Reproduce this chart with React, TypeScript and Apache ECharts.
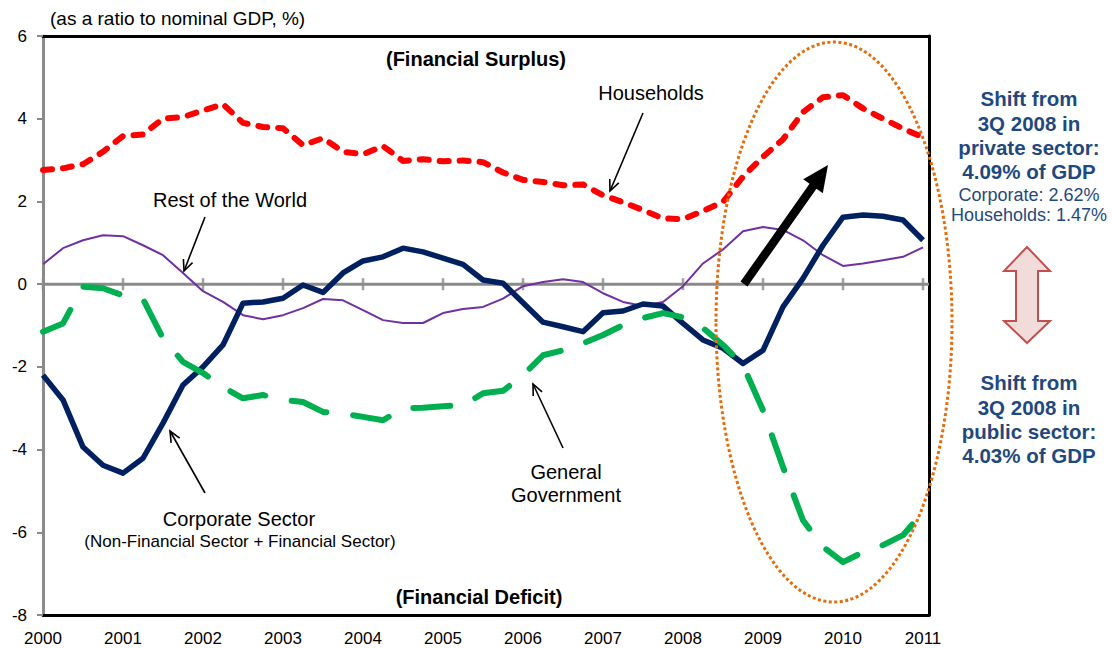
import React, { useEffect, useRef } from "react";
import * as echarts from "echarts";

// Quarterly observations, 2000 Q1 .. 2011 Q1
const quarterIndex = Array.from({ length: 45 }, (_, i) => i);
const quarterX = quarterIndex.map((i) => 2000 + i / 4);
const yearTicks = [2000, 2001, 2002, 2003, 2004, 2005, 2006, 2007, 2008, 2009, 2010, 2011];

const households = [
  2.76, 2.8, 2.9, 3.2, 3.58, 3.62, 4.0, 4.04, 4.2, 4.35,
  3.9, 3.8, 3.77, 3.36, 3.53, 3.2, 3.14, 3.34, 2.98, 3.02,
  2.97, 2.99, 2.95, 2.7, 2.52, 2.47, 2.39, 2.41, 2.15, 1.98,
  1.79, 1.59, 1.57, 1.77, 1.99, 2.6, 3.08, 3.5, 4.16, 4.52,
  4.57, 4.25, 4.0, 3.76, 3.55,
];
const restOfWorld = [
  0.48, 0.87, 1.06, 1.18, 1.16, 0.94, 0.7, 0.27, -0.17, -0.43,
  -0.75, -0.85, -0.75, -0.58, -0.36, -0.39, -0.63, -0.87, -0.94, -0.94,
  -0.7, -0.6, -0.55, -0.35, -0.05, 0.05, 0.12, 0.05, -0.22, -0.43,
  -0.53, -0.43, -0.05, 0.5, 0.84, 1.28, 1.38, 1.31, 1.06, 0.7,
  0.44, 0.5, 0.58, 0.66, 0.89,
];
const corporate = [
  -2.2, -2.8, -3.94, -4.38, -4.57, -4.21, -3.36, -2.44, -2.0, -1.47,
  -0.46, -0.43, -0.34, -0.02, -0.2, 0.27, 0.56, 0.66, 0.87, 0.78,
  0.63, 0.48, 0.1, 0.02, -0.45, -0.92, -1.03, -1.15, -0.69, -0.65,
  -0.48, -0.53, -0.95, -1.35, -1.55, -1.92, -1.6, -0.55, 0.14, 0.94,
  1.62, 1.67, 1.64, 1.55, 1.06,
];
const government = [
  -1.15, -0.95, -0.06, -0.1, -0.27, -0.36, -1.31, -1.88, -2.15, -2.49,
  -2.76, -2.68, -2.8, -2.85, -3.09, -3.13, -3.21, -3.29, -3.0, -2.99,
  -2.95, -2.93, -2.64, -2.58, -2.2, -1.72, -1.6, -1.43, -1.23, -0.99,
  -0.82, -0.7, -0.8, -1.06, -1.47, -1.96, -3.05, -4.42, -5.71, -6.35,
  -6.72, -6.48, -6.31, -6.07, -5.51,
];

const FONT = "'Liberation Sans', Arial, sans-serif";
const NAVY_TEXT = "#1F497D";

const pair = (vals: number[]) => vals.map((v, i) => [quarterX[i], v]);

function openArrow(x1: number, y1: number, x2: number, y2: number) {
  const a = Math.atan2(y2 - y1, x2 - x1);
  const len = 12;
  const ang = 0.42;
  const p1 = [x2 - len * Math.cos(a - ang), y2 - len * Math.sin(a - ang)];
  const p2 = [x2 - len * Math.cos(a + ang), y2 - len * Math.sin(a + ang)];
  return [
    { type: "line", shape: { x1, y1, x2, y2 }, style: { stroke: "#000", lineWidth: 1.6 }, z: 50 },
    { type: "polyline", shape: { points: [p1, [x2, y2], p2] }, style: { stroke: "#000", lineWidth: 1.6, fill: null }, z: 50 },
  ];
}

function blockArrow(x1: number, y1: number, x2: number, y2: number) {
  const sw = 8.5, hw = 24, hl = 26;
  const dx = x2 - x1, dy = y2 - y1, L = Math.hypot(dx, dy);
  const ux = dx / L, uy = dy / L, nx = -uy, ny = ux;
  const bx = x2 - ux * hl, by = y2 - uy * hl;
  return {
    type: "polygon",
    z: 50,
    shape: {
      points: [
        [x1 + (nx * sw) / 2, y1 + (ny * sw) / 2],
        [bx + (nx * sw) / 2, by + (ny * sw) / 2],
        [bx + (nx * hw) / 2, by + (ny * hw) / 2],
        [x2, y2],
        [bx - (nx * hw) / 2, by - (ny * hw) / 2],
        [bx - (nx * sw) / 2, by - (ny * sw) / 2],
        [x1 - (nx * sw) / 2, y1 - (ny * sw) / 2],
      ],
    },
    style: { fill: "#000" },
  };
}

function txt(text: string, x: number, y: number, size: number, opts: any = {}) {
  return {
    type: "text",
    x,
    y,
    z: 60,
    style: {
      text,
      fill: opts.color || "#000",
      fontSize: size,
      fontFamily: FONT,
      fontWeight: opts.bold ? "bold" : "normal",
      align: opts.align || "center",
      verticalAlign: "middle",
    },
  };
}

export default function App() {
  const ref = useRef<HTMLDivElement>(null);
  useEffect(() => {
    document.body.style.margin = "0";
    const chart = echarts.init(ref.current!, null, { renderer: "svg" });
    const xMax = 2011.075;

    const graphics: any[] = [
      txt("(as a ratio to nominal GDP, %)", 50, 18, 19, { align: "left" }),
      txt("(Financial Surplus)", 476, 59, 20, { bold: true }),
      txt("(Financial Deficit)", 479, 597, 20, { bold: true }),
      txt("Households", 651, 93, 20),
      txt("Rest of the World", 230, 200, 20),
      txt("Corporate Sector", 239, 519, 20),
      txt("(Non-Financial Sector + Financial Sector)", 240, 541, 17),
      txt("General", 566, 472, 20),
      txt("Government", 566, 495, 20),
      ...openArrow(643, 113, 610, 191),
      ...openArrow(205, 217, 184, 271),
      ...openArrow(205, 493, 170, 431),
      ...openArrow(563, 448, 533, 384),
      blockArrow(744, 284, 828, 165),
      {
        type: "ellipse",
        z: 55,
        shape: { cx: 834, cy: 322, rx: 118, ry: 280 },
        style: { fill: null, stroke: "#E46C0A", lineWidth: 3, lineDash: [3, 2.5] },
      },
      txt("Shift from", 1029, 98, 20.5, { bold: true, color: NAVY_TEXT }),
      txt("3Q 2008 in", 1029, 123, 20.5, { bold: true, color: NAVY_TEXT }),
      txt("private sector:", 1029, 147, 20.5, { bold: true, color: NAVY_TEXT }),
      txt("4.09% of GDP", 1029, 171, 20.5, { bold: true, color: NAVY_TEXT }),
      txt("Corporate: 2.62%", 1029, 195, 18, { color: NAVY_TEXT }),
      txt("Households: 1.47%", 1029, 215, 18, { color: NAVY_TEXT }),
      {
        type: "polygon",
        z: 50,
        shape: {
          points: [
            [1027, 247], [1050, 271], [1038, 271], [1038, 321], [1050, 321],
            [1027, 343], [1004, 321], [1016, 321], [1016, 271], [1004, 271],
          ],
        },
        style: { fill: "#F2DCDB", stroke: "#C0504D", lineWidth: 2 },
      },
      txt("Shift from", 1029, 382, 20.5, { bold: true, color: NAVY_TEXT }),
      txt("3Q 2008 in", 1029, 407, 20.5, { bold: true, color: NAVY_TEXT }),
      txt("public sector:", 1029, 431, 20.5, { bold: true, color: NAVY_TEXT }),
      txt("4.03% of GDP", 1029, 455, 20.5, { bold: true, color: NAVY_TEXT }),
    ];

    const option: any = {
      animation: false,
      backgroundColor: "#fff",
      textStyle: { fontFamily: FONT },
      grid: { left: 43, top: 36, width: 886, height: 579, containLabel: false },
      xAxis: [
        {
          type: "value",
          position: "bottom",
          min: 2000,
          max: xMax,
          interval: 1,
          axisLine: { show: true, onZero: false, lineStyle: { color: "#000", width: 3 } },
          axisTick: { show: false },
          axisLabel: {
            show: true,
            fontSize: 17,
            color: "#000",
            margin: 15,
            fontFamily: FONT,
            showMaxLabel: false,
            formatter: (v: number) => (Number.isInteger(v) ? String(v) : ""),
          },
          splitLine: { show: false },
        },
        {
          type: "value",
          position: "top",
          min: 2000,
          max: xMax,
          interval: 1,
          axisLine: { show: true, onZero: false, lineStyle: { color: "#000", width: 3 } },
          axisTick: { show: false },
          axisLabel: { show: false },
          splitLine: { show: false },
        },
      ],
      yAxis: [
        {
          type: "value",
          position: "left",
          min: -8,
          max: 6,
          interval: 2,
          axisLine: { show: true, onZero: false, lineStyle: { color: "#8A8A8A", width: 3 } },
          axisTick: { show: true, length: 6, lineStyle: { color: "#8A8A8A", width: 2 } },
          axisLabel: { fontSize: 17, color: "#000", margin: 16, fontFamily: FONT },
          splitLine: { show: false },
        },
        {
          type: "value",
          position: "right",
          min: -8,
          max: 6,
          interval: 2,
          axisLine: { show: true, onZero: false, lineStyle: { color: "#000", width: 3 } },
          axisTick: { show: false },
          axisLabel: { show: false },
          splitLine: { show: false },
        },
      ],
      graphic: graphics,
      series: [
        {
          type: "line",
          name: "zero",
          data: [[2000, 0], [xMax, 0]],
          symbol: "none",
          silent: true,
          lineStyle: { color: "#8A8A8A", width: 3 },
          z: 1,
        },
        {
          type: "scatter",
          name: "ticks",
          data: yearTicks.map((y) => [y, 0]),
          symbol: "rect",
          symbolSize: [2.5, 12],
          itemStyle: { color: "#8A8A8A" },
          silent: true,
          z: 1,
        },
        {
          type: "line",
          name: "Rest of the World",
          data: pair(restOfWorld),
          symbol: "none",
          lineStyle: { color: "#7030A0", width: 2 },
          z: 2,
        },
        {
          type: "line",
          name: "Corporate Sector",
          data: pair(corporate),
          symbol: "none",
          lineStyle: { color: "#002060", width: 5.5, join: "round" },
          z: 3,
        },
        {
          type: "line",
          name: "General Government",
          data: pair(government),
          symbol: "none",
          lineStyle: { color: "#00B050", width: 6, type: [37, 27], cap: "round", join: "round" },
          z: 4,
        },
        {
          type: "line",
          name: "Households",
          data: pair(households),
          symbol: "none",
          lineStyle: { color: "#FF0000", width: 6, type: [9, 11], cap: "round", join: "round" },
          z: 5,
        },
      ],
    };
    chart.setOption(option);
    return () => chart.dispose();
  }, []);
  return <div ref={ref} style={{ width: 1112, height: 648 }} />;
}
